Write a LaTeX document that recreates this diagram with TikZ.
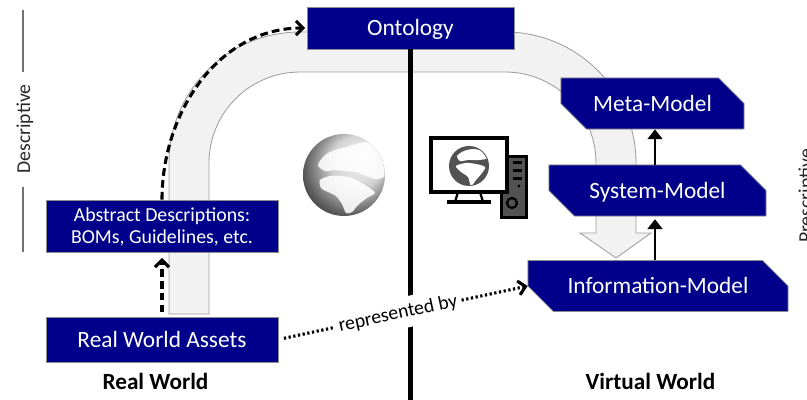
\documentclass[tikz,border=0pt]{standalone}
\usepackage{fontspec}
\setmainfont{Carlito}
\usetikzlibrary{shapes.misc,arrows.meta}
\colorlet{background}{white}
\definecolor{boxColor}{RGB}{0,0,139}
\colorlet{bandColor}{black!5}
\colorlet{bandLine}{black!38}
\colorlet{ruleColor}{black!55}
\colorlet{screenGray}{black!68}
\tikzset{>=stealth}
\tikzset{
	boxbase/.style={draw=black!45,line width=0.5pt,fill=boxColor,text=white,inner sep=0pt},
	box/.style={boxbase,font=\fontsize{16.6}{19}\selectfont,text height=10.7pt,text depth=0pt},
	snip/.style={box,chamfered rectangle,chamfered rectangle corners={north east,south west},
		chamfered rectangle xsep=0.45cm,chamfered rectangle ysep=0.45cm},
	dashArrow/.style={line width=2.2pt,dash pattern=on 5.5pt off 3pt,-{Straight Barb[length=5pt,width=10pt]}},
	dotArrow/.style={line width=2.2pt,dash pattern=on 1.6pt off 1.8pt,-{Straight Barb[length=5pt,width=10pt]}},
	solidArrow/.style={line width=1.9pt,-{Triangle[length=7pt,width=10.5pt]}},
	sideLbl/.style={font=\fontsize{14}{16}\selectfont,text=black!85,rotate=90,anchor=base},
	worldLbl/.style={font=\bfseries\fontsize{16.5}{19}\selectfont,anchor=base}
}
\pgfdeclareradialshading{globeShade}{\pgfpoint{12bp}{12bp}}{color(0bp)=(white);color(16bp)=(black!18);color(28bp)=(black!60);color(40bp)=(black!96);color(46bp)=(black!90);color(50bp)=(black!55)}

\begin{document}
\begin{tikzpicture}[x=0.025cm,y=-0.025cm]
	\useasboundingbox (0,0) rectangle (807,400);
	% wide grey arrow behind the boxes
	\draw[bandLine,fill=bandColor,line width=0.6pt]
		(169,314) -- (169,163) arc[start angle=180,end angle=270,radius=131]
		-- (505,32) arc[start angle=270,end angle=360,radius=131]
		-- (636,233) -- (651,233) -- (616,258) -- (580,233) -- (596,233) -- (596,163)
		arc[start angle=0,end angle=-90,radius=91]
		-- (300,72) arc[start angle=270,end angle=180,radius=91]
		-- (209,314) -- cycle;

	\node[box,minimum width=5.175cm,minimum height=1.05cm] (Ont) at (410.5,28) {Ontology};
	\draw[line width=3.5pt] (Ont.south) -- (Ont.south |- 0,400);

	\node[boxbase,minimum width=5.8cm,minimum height=1.3cm,align=center,
		font=\fontsize{14.1}{15.6}\selectfont,text depth=0pt] (Abs) at (162,226) {Abstract Descriptions:\\BOMs, Guidelines, etc.};
	\node[box,minimum width=5.8cm,minimum height=1.125cm] (Rwa) at (162,339.5) {Real World Assets};

	\node[snip,minimum width=4.575cm,minimum height=1.175cm] (Meta) at (652.5,103.5) {Meta-Model};
	\node[snip,minimum width=5.425cm,minimum height=1.175cm] (Sys) at (657.5,190.5) {System-Model};
	\node[snip,minimum width=6.5cm,minimum height=1.2cm] (Info) at (658,286) {Information-Model};

	\coordinate (ax) at (655,0);
	\draw[solidArrow] (Sys.north -| ax) -- (Meta.south -| ax);
	\draw[solidArrow,shorten >=2pt] (Info.north -| ax) -- (Sys.south -| ax);

	\draw[dashArrow,shorten <=3pt,shorten >=4pt] (Rwa) -- (Abs);
	\draw[dashArrow,shorten >=1pt] (Abs.north) to[out=90,in=180] (Ont.west);
	\draw[dotArrow,shorten <=4pt] (Rwa.east) -- node[sloped,pos=0.48,fill=white,inner xsep=3pt,inner ysep=5pt,
		font=\fontsize{14}{16}\selectfont] (rep) {represented by} (Info.west);

	% globe
	\shade[shading=globeShade] (344,175) circle[radius=41];
	\begin{scope}
		\clip (344,175) circle[radius=40.5];
		\fill[white,opacity=0.85] plot[smooth cycle] coordinates {(318,165) (325,155) (335,150) (350,146) (365,142)
			(378,146) (387,158) (386,175) (377,179) (366,176) (357,172) (345,171) (335,170) (325,171)};
		\fill[white,opacity=0.88] plot[smooth cycle] coordinates {(320,180) (330,176) (342,176) (352,178) (360,182)
			(368,187) (375,193) (367,198) (358,205) (352,212) (346,213) (342,204) (336,196) (328,192) (321,188)};
	\end{scope}

	% computer
	\fill[black] (500,155) rectangle (528,219);
	\fill[screenGray] (503,158) rectangle (525,216);
	\foreach \y in {161,169,177}
		\fill[black] (513,\y) rectangle (522,\y+3);
	\fill[black] (519,186) circle[radius=1.6];
	\draw[black,line width=1.6pt,fill=screenGray] (512,203) circle[radius=5];
	\draw[line width=2.6pt,fill=white] (431,138) rectangle (507,192);
	\fill[screenGray] (469,166) circle[radius=20];
	\begin{scope}
		\clip (469,166) circle[radius=19];
		\fill[white] plot[smooth cycle] coordinates {(457,156) (464,151) (474,149) (484,152) (488,158) (479,160) (468,160) (460,161)};
		\fill[white] plot[smooth cycle] coordinates {(456,166) (466,163) (476,164) (485,167) (482,173) (476,180) (471,186) (468,177) (461,172)};
	\end{scope}
	\draw[line width=1.6pt] (458,192) -- (455,202) (480,192) -- (483,202);
	\draw[line width=2.4pt] (447,202) -- (491,202);

	\node[worldLbl] (rwLbl) at (155.5,389) {Real World};
	\node[worldLbl] (vwLbl) at (650.5,389) {Virtual World};

	\node[sideLbl] (desc) at (30,129) {Descriptive};
	\draw[ruleColor,line width=0.8pt] (23,10) -- (23,72) (23,187) -- (23,252);
	\node[sideLbl] (pres) at (812,196) {Prescriptive};
\end{tikzpicture}
\end{document}
